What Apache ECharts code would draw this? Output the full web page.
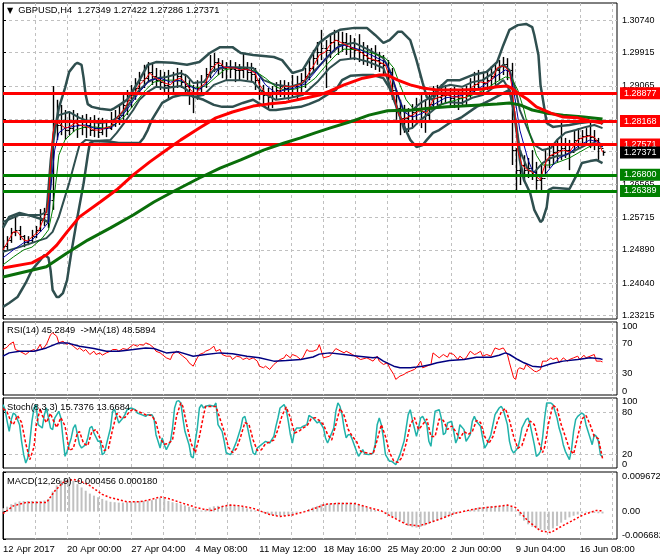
<!DOCTYPE html>
<html><head><meta charset="utf-8">
<script src="https://cdn.jsdelivr.net/npm/echarts@6/dist/echarts.min.js"></script>
<style>html,body{margin:0;padding:0;background:#fff}#c{width:660px;height:560px}</style>
</head><body><div id="c"></div>
<script>
const FONT = '"Liberation Sans", Arial, sans-serif';

// ---------- axes / labels ----------
const dateLabels = ['12 Apr 2017','20 Apr 00:00','27 Apr 04:00','4 May 08:00','11 May 12:00','18 May 16:00','25 May 20:00','2 Jun 00:00','9 Jun 04:00','16 Jun 08:00'];
const dateLabelIdx = [0,31,62,93,124,155,186,217,248,279];
const gridIdx = [15.5,31,46.5,62,77.5,93,108.5,124,139.5,155,170.5,186,201.5,217,232.5,248,263.5,279,294.5];
const priceTicks = [1.23215,1.24040,1.24890,1.25715,1.26565,1.27390,1.28215,1.29065,1.29915,1.30740];
const levelsRed = [1.28877,1.28168,1.27571];
const levelsGreen = [1.26800,1.26389];
const lastPrice = 1.27371;
const rsiTicks = [0,30,70,100];
const stochTicks = [0,20,80,100];
const macdTicks = [-0.006682,0,0.009672];

// ---------- price bars (every 2nd H4 bar) ----------
const barStep = 2;
const firstOpen = 1.2505;
const barHigh = [1.2514,1.2524,1.2545,1.2573,1.2550,1.2527,1.2524,1.2540,1.2550,1.2593,
1.2596,1.2642,1.2906,1.2871,1.2858,1.2845,1.2840,1.2845,1.2837,1.2832,
1.2835,1.2827,1.2832,1.2825,1.2825,1.2820,1.2840,1.2845,1.2858,1.2883,
1.2896,1.2909,1.2926,1.2942,1.2960,1.2967,1.2962,1.2952,1.2947,1.2942,
1.2947,1.2942,1.2952,1.2947,1.2937,1.2921,1.2909,1.2921,1.2934,1.2952,
1.2985,1.2990,1.2977,1.2972,1.2967,1.2972,1.2967,1.2962,1.2990,1.2967,
1.2965,1.2952,1.2926,1.2909,1.2901,1.2906,1.2916,1.2921,1.2921,1.2916,
1.2934,1.2932,1.2939,1.2952,1.2977,1.2998,1.3018,1.3049,1.3023,1.3036,
1.3049,1.3044,1.3044,1.3041,1.3036,1.3028,1.3038,1.3018,1.3010,1.3003,
1.3010,1.2993,1.2985,1.2972,1.2952,1.2896,1.2871,1.2858,1.2850,1.2860,
1.2876,1.2883,1.2871,1.2891,1.2906,1.2909,1.2911,1.2909,1.2901,1.2904,
1.2896,1.2901,1.2906,1.2926,1.2942,1.2947,1.2942,1.2947,1.2957,1.2965,
1.2972,1.2980,1.2977,1.2965,1.2748,1.2743,1.2730,1.2723,1.2743,1.2713,
1.2705,1.2743,1.2756,1.2761,1.2769,1.2815,1.2774,1.2769,1.2794,1.2799,
1.2794,1.2799,1.2815,1.2794,1.2774,1.27422];
const barLow = [1.2484,1.2489,1.2507,1.2524,1.2514,1.2496,1.2501,1.2509,1.2519,1.2535,
1.2550,1.2545,1.2591,1.2769,1.2781,1.2769,1.2781,1.2789,1.2774,1.2781,
1.2774,1.2779,1.2776,1.2774,1.2781,1.2776,1.2794,1.2802,1.2807,1.2820,
1.2832,1.2850,1.2871,1.2883,1.2901,1.2916,1.2909,1.2901,1.2896,1.2891,
1.2871,1.2891,1.2901,1.2901,1.2883,1.2858,1.2837,1.2871,1.2883,1.2901,
1.2926,1.2942,1.2934,1.2926,1.2921,1.2926,1.2916,1.2921,1.2926,1.2921,
1.2916,1.2896,1.2871,1.2858,1.2845,1.2850,1.2871,1.2878,1.2876,1.2871,
1.2876,1.2871,1.2891,1.2901,1.2921,1.2942,1.2960,1.2972,1.2901,1.2977,
1.2993,1.2985,1.2993,1.2985,1.2977,1.2972,1.2967,1.2960,1.2957,1.2952,
1.2947,1.2942,1.2934,1.2909,1.2871,1.2820,1.2781,1.2787,1.2789,1.2799,
1.2807,1.2799,1.2787,1.2820,1.2845,1.2850,1.2858,1.2863,1.2853,1.2850,
1.2845,1.2858,1.2855,1.2876,1.2883,1.2896,1.2891,1.2896,1.2901,1.2909,
1.2921,1.2934,1.2921,1.2705,1.2636,1.2654,1.2662,1.2672,1.2667,1.2642,
1.2636,1.2680,1.2697,1.2705,1.2713,1.2718,1.2723,1.2692,1.2743,1.2748,
1.2756,1.2756,1.2748,1.2743,1.2718,1.27286];
const barClose = [1.2499,1.2514,1.2535,1.2540,1.2524,1.2509,1.2514,1.2524,1.2540,1.2565,
1.2580,1.2616,1.2820,1.2807,1.2820,1.2794,1.2799,1.2815,1.2807,1.2802,
1.2807,1.2794,1.2799,1.2789,1.2799,1.2799,1.2809,1.2825,1.2832,1.2858,
1.2871,1.2883,1.2901,1.2921,1.2926,1.2942,1.2932,1.2921,1.2916,1.2909,
1.2906,1.2921,1.2932,1.2916,1.2906,1.2891,1.2878,1.2901,1.2916,1.2937,
1.2957,1.2967,1.2960,1.2952,1.2954,1.2949,1.2947,1.2947,1.2952,1.2942,
1.2937,1.2921,1.2896,1.2883,1.2878,1.2886,1.2896,1.2906,1.2901,1.2906,
1.2906,1.2911,1.2921,1.2932,1.2952,1.2977,1.2993,1.3003,1.2998,1.3018,
1.3023,1.3013,1.3018,1.3008,1.3003,1.2998,1.2993,1.2985,1.2977,1.2972,
1.2972,1.2965,1.2960,1.2942,1.2896,1.2850,1.2825,1.2825,1.2830,1.2840,
1.2845,1.2850,1.2832,1.2860,1.2876,1.2878,1.2883,1.2883,1.2876,1.2881,
1.2876,1.2878,1.2883,1.2901,1.2911,1.2921,1.2914,1.2921,1.2932,1.2947,
1.2957,1.2962,1.2947,1.2743,1.2692,1.2705,1.2692,1.2697,1.2687,1.2667,
1.2672,1.2718,1.2730,1.2738,1.2743,1.2748,1.2743,1.2738,1.2769,1.2774,
1.2779,1.2781,1.2776,1.2769,1.2748,1.27371];

// ---------- main-window indicator lines [bar index, price] ----------
const maFastRed = [[0,1.2489],[2,1.2507],[5,1.2535],[7,1.2535],[10,1.2514],[12,1.2512],[14,1.2522],[17,1.2535],[19,1.2560],[21,1.2585],[22,1.2616],[23,1.2705],[24,1.2781],[25,1.2809],[27,1.2812],[30,1.2799],[32,1.2802],[35,1.2812],[37,1.2807],[40,1.2804],[42,1.2799],[44,1.2794],[47,1.2794],[49,1.2799],[52,1.2802],[54,1.2817],[56,1.2830],[59,1.2850],[61,1.2871],[64,1.2891],[66,1.2909],[69,1.2924],[71,1.2939],[73,1.2929],[76,1.2921],[78,1.2914],[81,1.2909],[83,1.2921],[86,1.2926],[88,1.2916],[90,1.2901],[93,1.2883],[95,1.2901],[98,1.2914],[100,1.2942],[103,1.2962],[105,1.2965],[107,1.2954],[110,1.2952],[112,1.2952],[115,1.2947],[117,1.2949],[119,1.2947],[122,1.2939],[124,1.2909],[127,1.2888],[129,1.2881],[132,1.2888],[134,1.2896],[136,1.2906],[139,1.2904],[141,1.2906],[144,1.2911],[146,1.2921],[148,1.2939],[151,1.2965],[153,1.2985],[156,1.2993],[158,1.3010],[161,1.3023],[163,1.3018],[165,1.3013],[168,1.3005],[170,1.3000],[173,1.2993],[175,1.2985],[177,1.2977],[180,1.2972],[182,1.2967],[185,1.2960],[187,1.2926],[189,1.2883],[191,1.2840],[193,1.2820],[195,1.2825],[198,1.2832],[202,1.2845],[205,1.2837],[208,1.2871],[211,1.2878],[215,1.2883],[218,1.2878],[221,1.2878],[224,1.2876],[227,1.2904],[231,1.2916],[234,1.2914],[237,1.2926],[239,1.2952],[241,1.2957],[243,1.2954],[245,1.2942],[246,1.2909],[248,1.2820],[249,1.2743],[251,1.2705],[254,1.2692],[256,1.2687],[258,1.2675],[260,1.2667],[261,1.2687],[263,1.2718],[265,1.2730],[268,1.2736],[271,1.2743],[274,1.2738],[278,1.2769],[281,1.2776],[284,1.2779],[286,1.2776],[287,1.2769],[289,1.2751],[290,1.2738]];
const maBlue = [[0,1.2469],[5,1.2489],[10,1.2507],[14,1.2514],[19,1.2540],[22,1.2560],[23,1.2642],[25,1.2743],[27,1.2787],[30,1.2799],[35,1.2804],[40,1.2807],[44,1.2799],[49,1.2797],[53,1.2802],[56,1.2820],[61,1.2853],[66,1.2891],[71,1.2921],[76,1.2926],[81,1.2916],[86,1.2921],[90,1.2906],[95,1.2896],[100,1.2921],[105,1.2954],[110,1.2954],[115,1.2949],[119,1.2947],[123,1.2939],[127,1.2909],[132,1.2888],[136,1.2896],[141,1.2901],[146,1.2911],[151,1.2942],[156,1.2977],[161,1.3003],[165,1.3010],[173,1.2998],[180,1.2980],[185,1.2967],[188,1.2934],[191,1.2883],[194,1.2840],[198,1.2827],[203,1.2837],[208,1.2858],[214,1.2876],[221,1.2881],[227,1.2891],[233,1.2909],[238,1.2929],[243,1.2947],[245,1.2942],[247,1.2896],[250,1.2794],[254,1.2718],[256,1.2692],[260,1.2672],[262,1.2680],[266,1.2705],[269,1.2723],[274,1.2736],[279,1.2756],[284,1.2769],[289,1.2761],[290,1.2751]];
const maGreenThin = [[0,1.2451],[5,1.2471],[10,1.2489],[14,1.2496],[19,1.2519],[22,1.2540],[24,1.2591],[26,1.2680],[27,1.2730],[30,1.2769],[35,1.2794],[40,1.2802],[44,1.2802],[49,1.2799],[54,1.2807],[59,1.2830],[64,1.2863],[69,1.2896],[73,1.2916],[78,1.2921],[83,1.2921],[88,1.2916],[93,1.2901],[98,1.2906],[103,1.2929],[107,1.2947],[112,1.2952],[117,1.2949],[122,1.2944],[127,1.2926],[132,1.2904],[136,1.2896],[141,1.2898],[146,1.2906],[151,1.2926],[156,1.2957],[161,1.2985],[165,1.3000],[173,1.2998],[180,1.2988],[185,1.2977],[189,1.2952],[192,1.2909],[195,1.2871],[199,1.2845],[204,1.2840],[209,1.2850],[214,1.2863],[221,1.2873],[227,1.2883],[233,1.2896],[238,1.2914],[243,1.2929],[246,1.2926],[249,1.2896],[252,1.2845],[255,1.2781],[258,1.2730],[261,1.2705],[265,1.2705],[269,1.2713],[274,1.2723],[279,1.2738],[284,1.2753],[289,1.2758],[290,1.2756]];
const ma100Red = [[0,1.2443],[14,1.2456],[21,1.2476],[26,1.2501],[31,1.2535],[37,1.2573],[47,1.2611],[55,1.2642],[63,1.2680],[71,1.2713],[79,1.2743],[86,1.2769],[95,1.2799],[103,1.2825],[111,1.2840],[121,1.2855],[128,1.2860],[137,1.2865],[147,1.2876],[153,1.2883],[158,1.2893],[165,1.2909],[174,1.2926],[182,1.2934],[186,1.2934],[191,1.2921],[197,1.2909],[203,1.2901],[210,1.2896],[222,1.2896],[231,1.2898],[239,1.2904],[244,1.2906],[246,1.2901],[249,1.2888],[254,1.2871],[258,1.2853],[265,1.2837],[271,1.2827],[278,1.2825],[284,1.2817],[290,1.2812]];
const ma200Green = [[0,1.2420],[21,1.2446],[31,1.2481],[41,1.2514],[52,1.2545],[63,1.2578],[73,1.2611],[84,1.2642],[95,1.2672],[105,1.2697],[115,1.2718],[126,1.2743],[136,1.2761],[144,1.2774],[151,1.2787],[158,1.2799],[168,1.2815],[177,1.2832],[186,1.2843],[198,1.2845],[207,1.2850],[215,1.2853],[222,1.2855],[231,1.2858],[239,1.2860],[245,1.2863],[250,1.2858],[256,1.2845],[263,1.2837],[271,1.2832],[281,1.2827],[290,1.2822]];
const bandWideUpper = [[0,1.2545],[3,1.2573],[8,1.2583],[14,1.2575],[20,1.2565],[22,1.2560],[23,1.2680],[24,1.2756],[26,1.2820],[27,1.2850],[30,1.2901],[32,1.2942],[35,1.2962],[36,1.2965],[38,1.2960],[39,1.2926],[40,1.2883],[41,1.2860],[43,1.2853],[47,1.2848],[52,1.2845],[54,1.2850],[57,1.2860],[60,1.2871],[63,1.2896],[66,1.2921],[70,1.2960],[74,1.2967],[82,1.2965],[89,1.2960],[95,1.2967],[100,1.2990],[105,1.3005],[111,1.3005],[115,1.2990],[121,1.2985],[131,1.2980],[135,1.2972],[140,1.2939],[145,1.2947],[150,1.2990],[153,1.3016],[158,1.3036],[163,1.3049],[170,1.3054],[176,1.3054],[180,1.3036],[184,1.3016],[187,1.3023],[191,1.3044],[193,1.3044],[197,1.3023],[200,1.2972],[203,1.2914],[205,1.2878],[208,1.2871],[211,1.2901],[215,1.2921],[221,1.2921],[227,1.2934],[234,1.2942],[239,1.2967],[242,1.3010],[245,1.3049],[249,1.3061],[253,1.3064],[256,1.3056],[257,1.3036],[259,1.2985],[260,1.2909],[262,1.2845],[263,1.2812],[266,1.2802],[269,1.2804],[274,1.2807],[279,1.2812],[284,1.2815],[289,1.2815],[290,1.2809]];
const bandWideLower = [[0,1.2344],[3,1.2354],[7,1.2369],[9,1.2387],[11,1.2405],[14,1.2438],[18,1.2463],[20,1.2476],[22,1.2469],[23,1.2438],[24,1.2387],[26,1.2369],[27,1.2369],[29,1.2379],[31,1.2412],[33,1.2481],[36,1.2573],[39,1.2659],[41,1.2730],[42,1.2761],[44,1.2766],[52,1.2764],[56,1.2761],[61,1.2761],[66,1.2761],[68,1.2774],[70,1.2794],[72,1.2820],[77,1.2863],[82,1.2878],[86,1.2883],[90,1.2883],[97,1.2871],[102,1.2858],[106,1.2853],[111,1.2853],[116,1.2863],[121,1.2871],[125,1.2858],[129,1.2845],[132,1.2845],[139,1.2850],[144,1.2853],[148,1.2860],[153,1.2871],[158,1.2888],[161,1.2896],[164,1.2921],[168,1.2932],[174,1.2934],[179,1.2934],[184,1.2926],[187,1.2901],[190,1.2858],[193,1.2815],[197,1.2769],[200,1.2751],[203,1.2756],[205,1.2769],[208,1.2787],[211,1.2794],[216,1.2812],[222,1.2827],[229,1.2853],[236,1.2871],[242,1.2888],[245,1.2896],[247,1.2845],[249,1.2769],[250,1.2718],[252,1.2667],[255,1.2634],[257,1.2591],[260,1.2560],[261,1.2565],[263,1.2598],[264,1.2642],[266,1.2647],[274,1.2644],[278,1.2685],[280,1.2710],[284,1.2715],[287,1.2718],[290,1.2710]];
const bandNarrowUpper = [[0,1.2560],[8,1.2578],[18,1.2578],[21,1.2585],[23,1.2718],[25,1.2807],[27,1.2832],[32,1.2840],[37,1.2825],[42,1.2815],[47,1.2812],[52,1.2815],[55,1.2825],[59,1.2845],[63,1.2876],[66,1.2896],[70,1.2916],[74,1.2926],[79,1.2929],[86,1.2939],[89,1.2932],[92,1.2914],[97,1.2916],[102,1.2947],[108,1.2954],[115,1.2954],[121,1.2952],[126,1.2921],[132,1.2909],[139,1.2904],[145,1.2914],[152,1.2952],[158,1.2985],[163,1.3010],[170,1.3016],[177,1.2998],[184,1.2977],[187,1.2947],[191,1.2883],[194,1.2840],[198,1.2845],[202,1.2863],[207,1.2878],[211,1.2901],[216,1.2909],[222,1.2904],[227,1.2916],[232,1.2921],[237,1.2939],[242,1.2960],[245,1.2947],[248,1.2896],[250,1.2845],[254,1.2794],[257,1.2756],[261,1.2743],[265,1.2748],[268,1.2769],[272,1.2787],[277,1.2794],[282,1.2802],[286,1.2807],[290,1.2799]];
const bandNarrowLower = [[0,1.2484],[8,1.2496],[18,1.2514],[21,1.2519],[24,1.2535],[27,1.2573],[32,1.2659],[35,1.2718],[37,1.2756],[40,1.2769],[44,1.2766],[52,1.2769],[55,1.2787],[59,1.2815],[63,1.2845],[66,1.2871],[70,1.2891],[74,1.2904],[79,1.2901],[86,1.2906],[89,1.2896],[92,1.2878],[97,1.2883],[102,1.2909],[108,1.2921],[115,1.2921],[121,1.2916],[126,1.2888],[132,1.2871],[139,1.2876],[145,1.2883],[152,1.2916],[158,1.2952],[163,1.2972],[170,1.2977],[177,1.2967],[184,1.2952],[187,1.2909],[191,1.2845],[194,1.2794],[198,1.2799],[202,1.2820],[207,1.2840],[211,1.2858],[216,1.2865],[222,1.2863],[227,1.2876],[232,1.2883],[237,1.2901],[242,1.2921],[245,1.2896],[248,1.2820],[250,1.2743],[254,1.2692],[257,1.2687],[261,1.2710],[265,1.2723],[268,1.2728],[272,1.2730],[277,1.2743],[282,1.2756],[286,1.2761],[290,1.2751]];

// ---------- RSI(14) and its MA(18) ----------
const rsiLine = [[0,62.3],[2,65.5],[3,69.1],[5,72.7],[6,62.3],[8,60],[11,55.5],[13,60],[15,62.3],[16,60],[18,69.1],[19,62.3],[21,69.1],[23,82.7],[24,85],[26,80.5],[27,71.4],[29,73.6],[31,69.1],[32,71.4],[34,66.8],[36,62.3],[37,64.5],[39,60],[40,62.3],[42,55.5],[44,60],[45,55.5],[47,57.7],[48,54.5],[50,57.7],[52,60],[53,62.3],[55,62.3],[56,60],[58,63.6],[60,62.3],[61,64.5],[63,69.1],[65,66.8],[66,69.1],[68,68.2],[69,71.4],[71,69.1],[73,64.5],[74,60],[76,57.7],[77,55.5],[79,50.9],[81,48.6],[82,55.5],[84,60],[85,57.7],[87,53.2],[89,48.6],[90,44.1],[92,39.5],[94,50.9],[95,55.5],[97,57.7],[98,60],[100,62.3],[102,66.8],[103,60],[105,62.3],[106,55.5],[108,53.2],[110,53.2],[111,48.6],[113,53.2],[115,51.8],[116,48.6],[118,50.9],[119,48.6],[121,50.9],[123,46.4],[124,39.5],[126,37.3],[127,39.5],[129,35],[131,41.8],[132,44.1],[134,48.6],[136,50.9],[137,55.5],[139,50.9],[140,55.5],[142,53.2],[144,48.6],[145,50.9],[147,62.3],[148,60],[150,60],[152,62.3],[153,69.1],[155,50.9],[158,53.2],[160,60],[161,63.6],[165,57.7],[166,60],[169,55.5],[173,48.6],[176,50.9],[179,46.4],[181,53.2],[182,46.4],[184,41.8],[186,44.1],[187,37.3],[189,28.2],[190,21.4],[192,25.9],[194,28.2],[195,30.5],[197,32.7],[199,35],[200,37.3],[202,46.4],[203,37.3],[205,39.5],[207,41.8],[208,57.7],[210,53.2],[211,50.9],[213,55.5],[215,51.8],[216,57.7],[218,55.5],[220,48.6],[221,53.2],[223,48.6],[224,50.9],[226,60],[228,55.5],[229,56.4],[231,60],[232,53.2],[234,55.5],[236,53.2],[238,64.5],[240,62.3],[242,64.5],[244,55.5],[245,44.1],[247,23.6],[248,21.4],[249,35],[250,37.3],[252,35],[253,41.8],[255,37.3],[257,32.7],[258,31.8],[260,35],[261,46.4],[263,46.4],[265,50.9],[266,48.6],[268,50.9],[269,44.1],[271,50.9],[273,46.4],[274,48.6],[276,50.9],[278,53.2],[279,48.6],[281,54.5],[282,50.9],[284,53.2],[286,55.5],[287,46.4],[289,46.4],[290,45.28]];
const rsiMa = [[0,53.2],[3,57.7],[8,60],[15,60],[21,64.5],[27,71.4],[31,71.4],[37,66.8],[44,63.6],[50,60],[56,60],[63,62.3],[69,64.5],[73,63.6],[79,57.7],[85,59.1],[92,53.2],[98,55.5],[105,57.7],[111,56.4],[118,53.2],[124,50.9],[131,46.4],[137,47.3],[144,48.6],[150,52],[153,56],[158,57.7],[165,55.5],[172,53.2],[179,50.9],[181,51.8],[184,46.4],[189,39.5],[192,37.3],[197,37.3],[200,38.2],[203,39.5],[207,41.8],[210,44.1],[216,47.3],[223,48.6],[229,51.8],[236,51.8],[240,54.5],[243,57.7],[245,55.5],[249,48.6],[252,44.1],[256,39.5],[260,38.2],[265,42.7],[271,46.4],[278,48.6],[284,50.9],[289,49.5],[290,48.59]];

// ---------- Stochastic(8,3,3) ----------
const stochMain = [[0,90.5],[1,83.3],[2,66.7],[3,52.4],[4,69.1],[5,78.6],[6,76.2],[8,61.9],[9,38.1],[10,19.1],[11,7.2],[12,14.3],[13,38.1],[14,66.7],[15,85.7],[16,90.5],[17,61.9],[19,57.1],[20,76.2],[21,85.7],[22,71.4],[23,57.1],[24,54.8],[25,71.4],[27,81],[28,71.4],[29,42.9],[30,16.7],[31,23.8],[33,42.9],[34,57.1],[35,61.9],[36,47.6],[37,33.3],[38,28.6],[40,33.3],[41,42.9],[42,57.1],[43,59.5],[44,50],[46,38.1],[47,38.1],[48,19.1],[49,21.4],[50,33.3],[52,57.1],[53,81],[54,83.3],[55,73.8],[56,64.3],[58,71.4],[59,76.2],[60,83.3],[62,85.7],[64,83.3],[65,78.6],[67,76.2],[69,73.8],[70,76.2],[72,76.2],[73,71.4],[74,47.6],[75,38.1],[76,28.6],[77,42.9],[78,33.3],[79,26.2],[81,38.1],[82,57.1],[83,85.7],[84,95.2],[85,96.2],[86,92.9],[87,71.4],[88,52.4],[90,33.3],[91,16.7],[92,14.3],[93,38.1],[94,57.1],[95,85.7],[96,90.5],[97,85.7],[98,88.1],[100,89.5],[102,88.1],[103,92.9],[104,61.9],[106,52.4],[107,38.1],[108,21.4],[110,19.1],[111,23.8],[113,38.1],[115,57.1],[116,71.4],[117,73.8],[118,61.9],[120,33.3],[121,21.4],[122,19.1],[123,28.6],[125,33.3],[126,35.7],[127,38.1],[129,35.7],[131,45.2],[132,59.5],[133,71.4],[134,85.7],[136,90.5],[137,83.3],[138,66.7],[139,47.6],[140,35.7],[141,52.4],[142,57.1],[144,57.1],[145,59.5],[147,61.9],[148,75],[150,71.4],[152,64.3],[153,66.7],[154,61.9],[155,57.1],[156,42.9],[157,35.7],[158,42.9],[160,57.1],[161,81],[162,92.9],[163,88.1],[164,76.2],[165,57.1],[166,42.9],[167,47.6],[168,47.6],[169,40.5],[171,23.8],[172,16.7],[173,21.4],[174,26.2],[175,20],[177,19.1],[178,20],[179,21.4],[180,33.3],[181,61.9],[182,71.4],[183,61.9],[184,42.9],[185,19.1],[187,9.5],[188,9.5],[189,7.2],[190,4.8],[191,11.9],[192,19.1],[194,38.1],[195,57.1],[196,76.2],[197,83.3],[198,69.1],[200,45.2],[201,57.1],[202,71.4],[203,73.8],[205,61.9],[206,38.1],[207,31],[208,57.1],[209,81],[211,83.3],[212,71.4],[213,47.6],[214,50],[215,64.3],[217,66.7],[218,52.4],[219,35.7],[220,42.9],[221,61.9],[223,54.8],[224,38.1],[226,47.6],[227,66.7],[228,73.8],[229,66.7],[231,59.5],[232,42.9],[233,28.6],[234,33.3],[236,47.6],[237,61.9],[238,76.2],[240,85.7],[241,88.1],[242,83.3],[244,61.9],[245,38.1],[246,26.2],[247,21.4],[249,28.6],[250,40.5],[251,57.1],[253,69.1],[254,71.4],[255,61.9],[257,33.3],[258,16.7],[259,19.1],[260,23.8],[261,42.9],[262,71.4],[263,92.9],[265,92.9],[266,90.5],[268,71.4],[269,57.1],[270,47.6],[271,33.3],[272,23.8],[274,11.9],[275,26.2],[276,52.4],[277,69.1],[278,73.8],[280,78.6],[281,76.2],[282,61.9],[284,42.9],[285,33.3],[286,47.6],[287,45.2],[288,38.1],[289,19.1],[290,15.74]];
const stochSignal = [[0,85],[2,80],[4,65],[5,62],[7,75],[9,65],[11,35],[13,12],[15,30],[16,60],[18,85],[19,75],[21,65],[23,78],[24,70],[26,58],[28,72],[30,60],[32,25],[34,28],[36,50],[37,52],[39,35],[41,32],[43,52],[45,55],[47,42],[49,25],[51,28],[53,55],[55,78],[57,72],[59,72],[61,80],[63,84],[66,80],[69,76],[72,75],[74,65],[76,42],[78,34],[80,35],[82,40],[84,75],[86,93],[87,88],[89,60],[91,35],[93,22],[95,45],[97,75],[98,88],[101,88],[103,88],[105,70],[107,52],[109,30],[111,22],[113,28],[115,45],[117,65],[119,62],[121,40],[123,25],[125,26],[127,35],[129,37],[131,40],[133,55],[135,75],[137,87],[139,72],[141,50],[143,52],[145,57],[147,60],[149,70],[151,72],[153,68],[155,62],[157,48],[159,40],[161,62],[163,85],[165,75],[167,55],[169,45],[171,38],[173,24],[175,22],[177,21],[179,20],[181,40],[183,62],[185,45],[187,22],[189,10],[191,8],[193,15],[195,35],[197,62],[199,72],[201,55],[203,62],[205,70],[207,45],[209,45],[211,70],[213,68],[215,55],[217,60],[219,52],[221,42],[223,52],[225,48],[227,52],[229,68],[231,65],[233,45],[235,35],[237,45],[239,65],[241,80],[243,85],[245,68],[247,45],[249,28],[251,32],[253,50],[255,67],[257,62],[259,38],[261,22],[262,30],[264,65],[266,90],[268,85],[270,62],[272,45],[274,27],[276,20],[278,45],[280,70],[282,75],[284,62],[286,45],[288,42],[290,13.67]];

// ---------- MACD(12,26,9) ----------
const macdHist = [0.0008,0.0012,0.0018,0.0022,0.0025,0.0026,0.0026,0.0026,0.0026,0.0026,
0.0027,0.0031,0.0049,0.0064,0.0076,0.0082,0.0081,0.0075,0.0067,0.0059,
0.0051,0.0044,0.0039,0.0035,0.0031,0.0027,0.0024,0.0023,0.0022,0.0022,
0.0023,0.0024,0.0025,0.0026,0.0026,0.0027,0.0028,0.0031,0.0034,0.0031,
0.0026,0.0023,0.0021,0.0018,0.0015,0.0012,0.0009,0.0005,0.0003,0.0005,
0.0010,0.0013,0.0014,0.0014,0.0014,0.0017,0.0015,0.0013,0.0011,0.0008,
0.0005,0.0003,0.0001,-0.0003,-0.0006,-0.0008,-0.0010,-0.0011,-0.0010,-0.0008,
-0.0006,-0.0003,0.0000,0.0002,0.0006,0.0010,0.0014,0.0018,0.0019,0.0020,
0.0021,0.0022,0.0022,0.0022,0.0022,0.0020,0.0018,0.0014,0.0010,0.0007,
0.0004,0.0001,-0.0001,-0.0006,-0.0011,-0.0016,-0.0021,-0.0028,-0.0035,-0.0038,
-0.0039,-0.0037,-0.0034,-0.0030,-0.0026,-0.0022,-0.0018,-0.0014,-0.0010,-0.0006,
-0.0002,0.0000,0.0002,0.0004,0.0007,0.0010,0.0011,0.0012,0.0013,0.0014,
0.0014,0.0015,0.0016,0.0011,0.0003,-0.0010,-0.0022,-0.0031,-0.0037,-0.0041,
-0.0044,-0.0046,-0.0046,-0.0041,-0.0035,-0.0027,-0.0020,-0.0014,-0.0010,-0.0007,
-0.0004,-0.0002,-0.0002,-0.0003,-0.0004,-0.000456];
const macdSignal = [[0,-0.0005],[5,0.0014],[11,0.0022],[21,0.0022],[25,0.0050],[29,0.0071],[34,0.0079],[39,0.0071],[41,0.0067],[48,0.0042],[52,0.0034],[60,0.0024],[66,0.0024],[72,0.0030],[76,0.0036],[80,0.0032],[86,0.0022],[93,0.0011],[97,0.0006],[101,0.0003],[107,0.0014],[110,0.0016],[115,0.0014],[121,0.0008],[129,-0.0007],[134,-0.0012],[140,-0.0008],[146,0.0000],[152,0.0010],[156,0.0018],[162,0.0020],[170,0.0020],[177,0.0010],[183,0.0002],[189,-0.0015],[195,-0.0031],[201,-0.0035],[205,-0.0029],[211,-0.0019],[218,-0.0005],[224,0.0002],[230,0.0008],[236,0.0011],[244,0.0016],[248,0.0010],[254,-0.0023],[260,-0.0047],[265,-0.0051],[269,-0.0039],[275,-0.0023],[281,-0.0007],[287,0.0003],[290,0.00018]];

// ---------- build ----------
const barData = barClose.map((c, k) => [k * barStep, k === 0 ? firstOpen : barClose[k - 1], barHigh[k], barLow[k], c]);
const macdData = macdHist.map((v, k) => [k * barStep, v]);

const GRIDS = [
  {left: 3, top: 3, width: 614, height: 316},
  {left: 3, top: 322, width: 614, height: 73},
  {left: 3, top: 398, width: 614, height: 70},
  {left: 3, top: 472, width: 614, height: 67}
].map(g => Object.assign(g, {show: true, borderColor: '#000', borderWidth: 1, backgroundColor: 'transparent',
  containLabel: false, outerBoundsMode: 'none'}));

const FS = 9.3;
const dash = {color: '#c0c0c0', type: [3, 3], width: 1};
function xAx(i, labels) {
  return {
    type: 'value', gridIndex: i, min: 0, max: 297,
    axisLine: {show: false},
    axisTick: {show: false, customValues: gridIdx},
    splitLine: {show: true, lineStyle: dash},
    axisLabel: labels ? {
      show: true, customValues: dateLabelIdx, hideOverlap: false, showMinLabel: true, showMaxLabel: true,
      formatter: v => dateLabels[dateLabelIdx.indexOf(Math.round(v))] || '',
      align: 'left', color: '#000', fontSize: 9.5, fontFamily: FONT, margin: 5
    } : {show: false}
  };
}
function yAx(i, min, max, ticks, labels, fmt, split, edgeAlign, fs, lh) {
  const lab = {
    show: true, customValues: labels, formatter: fmt, color: '#000', hideOverlap: false,
    showMinLabel: true, showMaxLabel: true,
    fontSize: fs, lineHeight: lh, fontFamily: FONT, margin: 5
  };
  if (edgeAlign) { lab.verticalAlignMinLabel = 'bottom'; lab.verticalAlignMaxLabel = 'top'; }
  return {
    type: 'value', gridIndex: i, position: 'right', min: min, max: max,
    axisLine: {show: true, lineStyle: {color: '#000', width: 1}},
    axisTick: {show: true, customValues: ticks, length: 3, lineStyle: {color: '#000'}},
    splitLine: {show: split, lineStyle: dash},
    axisLabel: lab
  };
}
function line(data, color, width, xi, z, type) {
  return {type: 'line', xAxisIndex: xi, yAxisIndex: xi, data: data, showSymbol: false, symbol: 'none',
    lineStyle: {color: color, width: width, type: type || 'solid'}, silent: true, z: z, clip: true};
}

const mainAxisFmt = v => v.toFixed(5);
const levelData = [].concat(
  levelsGreen.map(v => ({yAxis: v, lineStyle: {color: '#008000', width: 3, type: 'solid'}, label: {backgroundColor: '#008000'}})),
  levelsRed.map(v => ({yAxis: v, lineStyle: {color: '#ff0000', width: 3, type: 'solid'}, label: {backgroundColor: '#ff0000'}})),
  [{yAxis: lastPrice, lineStyle: {color: 'rgba(0,0,0,0)', width: 1, type: 'solid'}, label: {backgroundColor: '#000000', color: '#ffffff'}}]
);
const titleStyle = {fontSize: FS, fontWeight: 'normal', color: '#000', fontFamily: FONT};

const option = {
  animation: false,
  backgroundColor: '#ffffff',
  textStyle: {fontFamily: FONT},
  title: [
    {text: '{t|▼}  GBPUSD,H4  1.27349 1.27422 1.27286 1.27371', left: 7, top: 6, padding: 0,
     textStyle: Object.assign({}, titleStyle, {rich: {t: {fontSize: 8, fontFamily: '"DejaVu Sans"', color: '#000'}}})},
    {text: 'RSI(14) 45.2849  ->MA(18) 48.5894', left: 7, top: 326, padding: 0, textStyle: titleStyle},
    {text: 'Stoch(8,3,3) 15.7376 13.6684', left: 7, top: 403, padding: 0, textStyle: titleStyle},
    {text: 'MACD(12,26,9) -0.000456 0.000180', left: 7, top: 477, padding: 0, textStyle: titleStyle}
  ],
  grid: GRIDS,
  xAxis: [xAx(0, false), xAx(1, false), xAx(2, false), xAx(3, true)],
  yAxis: [
    yAx(0, 1.23132, 1.31173, priceTicks, priceTicks, mainAxisFmt, true, false, 9, 11),
    yAx(1, 0, 100, [30, 70], rsiTicks, v => String(Math.round(v)), true, true, FS, 8),
    yAx(2, 0, 100, [20, 80], stochTicks, v => String(Math.round(v)), true, true, FS, 7),
    yAx(3, -0.006682, 0.009672, macdTicks, macdTicks, v => (Math.abs(v) < 1e-9 ? '0.00' : v.toFixed(6)), false, true, FS, 8)
  ],
  series: [
    {
      type: 'custom', xAxisIndex: 0, yAxisIndex: 0, data: barData, silent: true, z: 2, clip: true,
      encode: {x: 0, y: [1, 2, 3, 4]},
      renderItem: function (params, api) {
        const i = api.value(0);
        const ph = api.coord([i, api.value(2)]);
        const pl = api.coord([i, api.value(3)]);
        const po = api.coord([i, api.value(1)]);
        const pc = api.coord([i, api.value(4)]);
        const x = Math.round(ph[0]) + 0.5;
        const st = {stroke: '#000', lineWidth: 1.4};
        const st2 = {stroke: '#000', lineWidth: 1};
        return {type: 'group', children: [
          {type: 'line', shape: {x1: x, y1: ph[1], x2: x, y2: pl[1]}, style: st},
          {type: 'line', shape: {x1: x - 2, y1: Math.round(po[1]) + 0.5, x2: x, y2: Math.round(po[1]) + 0.5}, style: st2},
          {type: 'line', shape: {x1: x, y1: Math.round(pc[1]) + 0.5, x2: x + 2, y2: Math.round(pc[1]) + 0.5}, style: st2}
        ]};
      }
    },
    line(bandWideUpper, '#2f4f4f', 2.5, 0, 3),
    line(bandWideLower, '#2f4f4f', 2.5, 0, 3),
    line(bandNarrowUpper, '#2f4f4f', 2, 0, 3),
    line(bandNarrowLower, '#2f4f4f', 2, 0, 3),
    line(maGreenThin, '#008000', 1, 0, 4),
    line(maBlue, '#0000a0', 1, 0, 4),
    line(maFastRed, '#ff0000', 1, 0, 4),
    line(ma200Green, '#0a6e0a', 3, 0, 5),
    line(ma100Red, '#ff0000', 3, 0, 5),
    {
      type: 'line', xAxisIndex: 0, yAxisIndex: 0, data: [[0, lastPrice]], symbol: 'none', showSymbol: false,
      lineStyle: {opacity: 0}, silent: true, z: 6,
      markLine: {
        symbol: 'none', silent: true, animation: false, precision: 5, data: levelData,
        label: {show: true, position: 'end', distance: 3, formatter: p => Number(p.value).toFixed(5),
          color: '#fff', fontSize: 9, lineHeight: 11, fontFamily: FONT, padding: [1, 4, 0, 4]}
      }
    },
    line(rsiLine, '#ff0000', 1, 1, 3),
    line(rsiMa, '#000080', 1.5, 1, 4),
    line(stochMain, '#20b2aa', 1.5, 2, 3),
    line(stochSignal, '#ff0000', 1.5, 2, 4, [3, 2]),
    {type: 'bar', xAxisIndex: 3, yAxisIndex: 3, data: macdData, barWidth: 2, itemStyle: {color: '#c0c0c0'}, silent: true, z: 2},
    line(macdSignal, '#ff0000', 1.5, 3, 4, [2, 2])
  ]
};

const chart = echarts.init(document.getElementById('c'), null, {renderer: 'canvas'});
chart.setOption(option);
</script></body></html>
